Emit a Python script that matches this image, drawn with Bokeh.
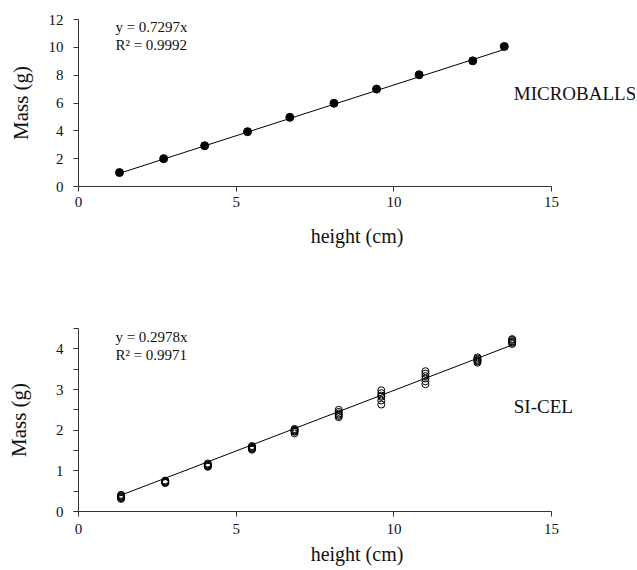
from bokeh.plotting import figure
from bokeh.layouts import column
from bokeh.models import Range1d, Label, FixedTicker, SingleIntervalTicker
from bokeh.embed import file_html
from bokeh.resources import INLINE

# ---------------- data ----------------
micro_height = [1.3, 2.7, 4.0, 5.36, 6.7, 8.1, 9.45, 10.8, 12.5, 13.5]
micro_mass = [1.0, 2.0, 2.93, 3.94, 4.97, 5.98, 7.0, 8.03, 9.03, 10.06]
micro_slope = 0.7297
micro_r2 = 0.9992

sicel_levels = [1.35, 2.75, 4.1, 5.5, 6.85, 8.25, 9.6, 11.0, 12.65, 13.75]
sicel_reps = [
    [0.41, 0.39, 0.37, 0.35, 0.33, 0.31],
    [0.76, 0.75, 0.73, 0.72, 0.71, 0.70],
    [1.18, 1.16, 1.14, 1.13, 1.11, 1.10],
    [1.61, 1.59, 1.57, 1.55, 1.54, 1.52],
    [2.03, 2.01, 1.99, 1.98, 1.96, 1.92],
    [2.50, 2.45, 2.41, 2.38, 2.35, 2.32],
    [2.98, 2.91, 2.85, 2.82, 2.73, 2.63],
    [3.45, 3.39, 3.33, 3.27, 3.20, 3.13],
    [3.79, 3.76, 3.73, 3.71, 3.69, 3.66],
    [4.24, 4.22, 4.19, 4.17, 4.15, 4.12],
]
sicel_slope = 0.2978
sicel_r2 = 0.9971

x_ticks = [0, 5, 10, 15]
FONT = "Liberation Serif"
INK = "#111111"


def style(p, xlab_standoff, ylab_standoff, xtick_standoff):
    p.xgrid.visible = False
    p.ygrid.visible = False
    p.outline_line_color = None
    p.background_fill_color = "white"
    p.border_fill_color = "white"
    for ax in (p.xaxis[0], p.yaxis[0]):
        ax.axis_line_color = "#333333"
        ax.major_tick_line_color = "#333333"
        ax.minor_tick_line_color = "#333333"
        ax.major_tick_out = 5
        ax.major_tick_in = 0
        ax.minor_tick_out = 5
        ax.minor_tick_in = 0
        ax.major_label_text_font = FONT
        ax.major_label_text_font_size = "15px"
        ax.major_label_text_color = INK
        ax.axis_label_text_font = FONT
        ax.axis_label_text_font_style = "normal"
        ax.axis_label_text_color = INK
    p.xaxis[0].axis_label_text_font_size = "20px"
    p.yaxis[0].axis_label_text_font_size = "21px"
    p.xaxis[0].axis_label = "height (cm)"
    p.yaxis[0].axis_label = "Mass (g)"
    p.xaxis[0].ticker = FixedTicker(ticks=x_ticks)
    p.xaxis[0].bounds = (0, 15)
    p.xaxis[0].major_label_standoff = xtick_standoff
    p.xaxis[0].axis_label_standoff = xlab_standoff
    p.yaxis[0].major_label_standoff = 10
    p.yaxis[0].axis_label_standoff = ylab_standoff


def add_text(p, x, y, txt, size):
    p.add_layout(Label(x=x, y=y, text=txt, text_font=FONT, text_font_size=size,
                       text_color=INK, text_baseline="middle", text_align="left"))


# ---------------- top: microballs ----------------
p1 = figure(width=635, height=276, output_backend="svg", toolbar_location=None,
            x_range=Range1d(0, 17.66), y_range=Range1d(0, 12),
            min_border_left=78, min_border_right=0, min_border_top=19, min_border_bottom=90)
style(p1, xlab_standoff=15, ylab_standoff=13, xtick_standoff=5)
p1.yaxis[0].ticker = FixedTicker(ticks=[0, 2, 4, 6, 8, 10, 12])
p1.yaxis[0].bounds = (0, 12)

x0, x1 = min(micro_height), max(micro_height)
p1.line([x0, x1], [micro_slope * x0, micro_slope * x1], line_color="black", line_width=1)
p1.scatter(micro_height, micro_mass, size=8, marker="circle",
           fill_color="black", line_color="black")
add_text(p1, 1.17, 11.43, "y = %.4fx" % micro_slope, "15px")
add_text(p1, 1.17, 10.2, "R² = %.4f" % micro_r2, "15px")
add_text(p1, 13.8, 6.67, "MICROBALLS", "19px")

# ---------------- bottom: SI-CEL ----------------
sx, sy = [], []
for h, reps in zip(sicel_levels, sicel_reps):
    for m in reps:
        sx.append(h)
        sy.append(m)

p2 = figure(width=635, height=294, output_backend="svg", toolbar_location=None,
            x_range=Range1d(0, 17.66), y_range=Range1d(0, 4.5),
            min_border_left=78, min_border_right=0, min_border_top=52, min_border_bottom=59)
style(p2, xlab_standoff=6, ylab_standoff=22, xtick_standoff=7)
p2.yaxis[0].ticker = SingleIntervalTicker(interval=1, num_minor_ticks=2)
p2.yaxis[0].bounds = (0, 4.5)

x0, x1 = min(sx), max(sx)
p2.line([x0, x1], [sicel_slope * x0, sicel_slope * x1], line_color="black", line_width=1)
p2.scatter(sx, sy, size=7, marker="circle", fill_color=None,
           line_color="black", line_width=1)
add_text(p2, 1.17, 4.30, "y = %.4fx" % sicel_slope, "15px")
add_text(p2, 1.17, 3.84, "R² = %.4f" % sicel_r2, "15px")
add_text(p2, 13.8, 2.57, "SI-CEL", "19px")

layout = column(p1, p2, spacing=0)
open("out.html", "w").write(file_html(layout, INLINE))
